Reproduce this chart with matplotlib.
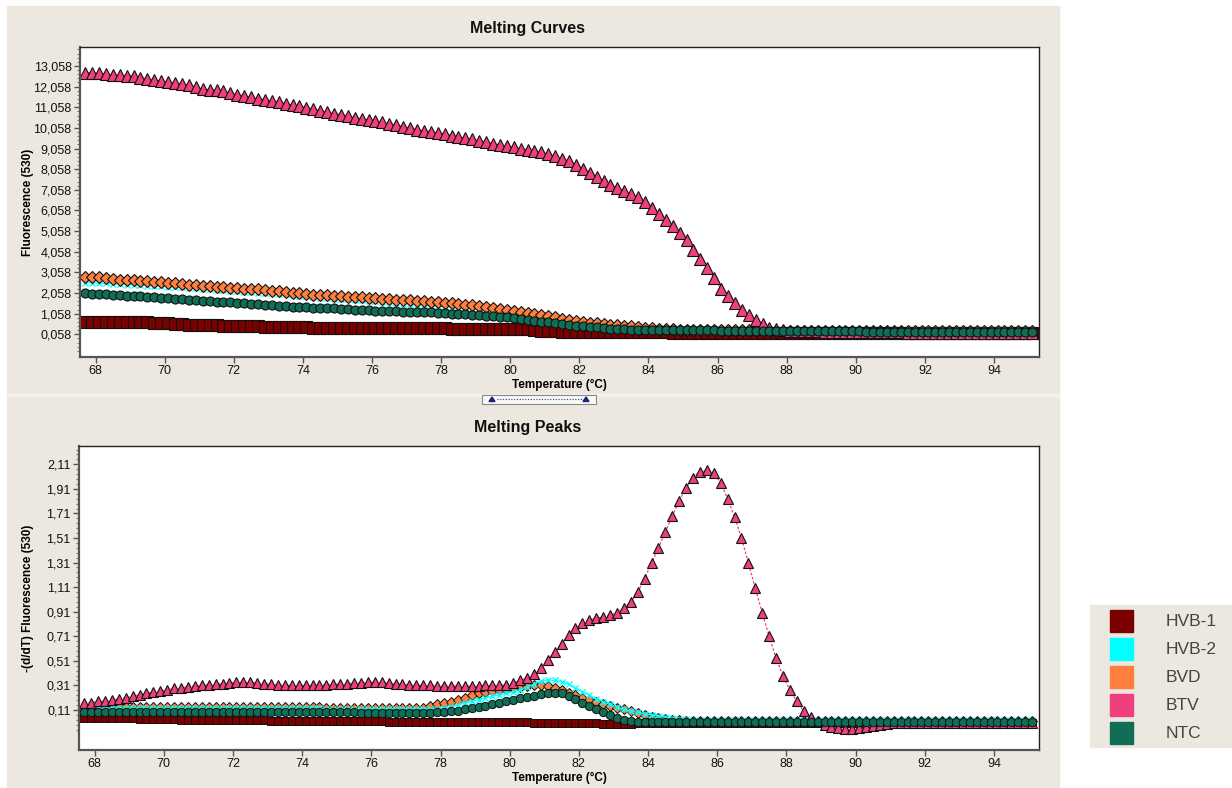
import matplotlib
matplotlib.use("Agg")
import matplotlib.pyplot as plt
from matplotlib.patches import Rectangle, Polygon
from matplotlib.ticker import FixedLocator

plt.rcParams['font.family'] = ['Liberation Sans', 'DejaVu Sans']

# acquisition temperatures (°C), shared by both panels
temps = [
    67.7, 67.9, 68.1, 68.3, 68.5, 68.7, 68.9, 69.1, 69.3, 69.5,
    69.7, 69.9, 70.1, 70.3, 70.5, 70.7, 70.9, 71.1, 71.3, 71.5,
    71.7, 71.9, 72.1, 72.3, 72.5, 72.7, 72.9, 73.1, 73.3, 73.5,
    73.7, 73.9, 74.1, 74.3, 74.5, 74.7, 74.9, 75.1, 75.3, 75.5,
    75.7, 75.9, 76.1, 76.3, 76.5, 76.7, 76.9, 77.1, 77.3, 77.5,
    77.7, 77.9, 78.1, 78.3, 78.5, 78.7, 78.9, 79.1, 79.3, 79.5,
    79.7, 79.9, 80.1, 80.3, 80.5, 80.7, 80.9, 81.1, 81.3, 81.5,
    81.7, 81.9, 82.1, 82.3, 82.5, 82.7, 82.9, 83.1, 83.3, 83.5,
    83.7, 83.9, 84.1, 84.3, 84.5, 84.7, 84.9, 85.1, 85.3, 85.5,
    85.7, 85.9, 86.1, 86.3, 86.5, 86.7, 86.9, 87.1, 87.3, 87.5,
    87.7, 87.9, 88.1, 88.3, 88.5, 88.7, 88.9, 89.1, 89.3, 89.5,
    89.7, 89.9, 90.1, 90.3, 90.5, 90.7, 90.9, 91.1, 91.3, 91.5,
    91.7, 91.9, 92.1, 92.3, 92.5, 92.7, 92.9, 93.1, 93.3, 93.5,
    93.7, 93.9, 94.1, 94.3, 94.5, 94.7, 94.9, 95.1,
]

# ---- Melting curves: fluorescence (530) ----
curve_hvb1 = [
    0.67, 0.67, 0.67, 0.66, 0.66, 0.66, 0.65, 0.65, 0.64, 0.63,
    0.62, 0.61, 0.60, 0.58, 0.56, 0.53, 0.51, 0.50, 0.50, 0.49,
    0.48, 0.47, 0.46, 0.46, 0.45, 0.44, 0.43, 0.42, 0.41, 0.41,
    0.40, 0.40, 0.39, 0.38, 0.38, 0.37, 0.36, 0.36, 0.35, 0.35,
    0.35, 0.35, 0.34, 0.34, 0.34, 0.34, 0.34, 0.34, 0.34, 0.34,
    0.34, 0.34, 0.34, 0.33, 0.33, 0.33, 0.33, 0.31, 0.31, 0.30,
    0.30, 0.30, 0.30, 0.30, 0.30, 0.29, 0.24, 0.22, 0.21, 0.19,
    0.18, 0.18, 0.18, 0.18, 0.18, 0.17, 0.17, 0.16, 0.16, 0.16,
    0.15, 0.15, 0.15, 0.15, 0.15, 0.14, 0.14, 0.14, 0.14, 0.14,
    0.14, 0.14, 0.13, 0.13, 0.13, 0.13, 0.13, 0.13, 0.13, 0.13,
    0.13, 0.13, 0.13, 0.12, 0.12, 0.12, 0.12, 0.12, 0.12, 0.12,
    0.12, 0.12, 0.12, 0.12, 0.12, 0.12, 0.12, 0.12, 0.12, 0.12,
    0.12, 0.12, 0.12, 0.12, 0.11, 0.11, 0.11, 0.11, 0.11, 0.11,
    0.11, 0.11, 0.11, 0.11, 0.11, 0.11, 0.11, 0.11,
]
curve_hvb2 = [
    2.56, 2.55, 2.53, 2.52, 2.50, 2.49, 2.47, 2.45, 2.44, 2.42,
    2.40, 2.39, 2.37, 2.35, 2.33, 2.31, 2.29, 2.26, 2.24, 2.22,
    2.20, 2.17, 2.15, 2.13, 2.11, 2.08, 2.06, 2.04, 2.01, 1.99,
    1.96, 1.93, 1.90, 1.87, 1.84, 1.82, 1.79, 1.77, 1.75, 1.72,
    1.70, 1.68, 1.66, 1.63, 1.60, 1.57, 1.54, 1.51, 1.48, 1.46,
    1.44, 1.42, 1.40, 1.37, 1.35, 1.33, 1.30, 1.27, 1.24, 1.21,
    1.18, 1.15, 1.13, 1.09, 1.05, 1.00, 0.95, 0.89, 0.84, 0.78,
    0.72, 0.66, 0.60, 0.55, 0.50, 0.46, 0.42, 0.39, 0.36, 0.34,
    0.32, 0.30, 0.29, 0.28, 0.27, 0.26, 0.25, 0.25, 0.24, 0.24,
    0.23, 0.23, 0.23, 0.23, 0.23, 0.22, 0.22, 0.22, 0.22, 0.22,
    0.22, 0.22, 0.22, 0.22, 0.21, 0.21, 0.21, 0.21, 0.21, 0.21,
    0.21, 0.21, 0.21, 0.21, 0.21, 0.20, 0.20, 0.20, 0.20, 0.20,
    0.20, 0.20, 0.20, 0.20, 0.20, 0.20, 0.20, 0.20, 0.19, 0.19,
    0.19, 0.19, 0.19, 0.19, 0.19, 0.19, 0.19, 0.19,
]
curve_bvd = [
    2.82, 2.82, 2.81, 2.77, 2.74, 2.71, 2.70, 2.69, 2.66, 2.63,
    2.60, 2.58, 2.55, 2.52, 2.49, 2.46, 2.44, 2.41, 2.38, 2.36,
    2.34, 2.32, 2.30, 2.27, 2.25, 2.23, 2.20, 2.17, 2.14, 2.10,
    2.07, 2.04, 2.01, 1.98, 1.96, 1.94, 1.92, 1.90, 1.88, 1.86,
    1.85, 1.83, 1.81, 1.79, 1.76, 1.74, 1.72, 1.70, 1.69, 1.65,
    1.63, 1.60, 1.58, 1.56, 1.53, 1.50, 1.47, 1.43, 1.39, 1.34,
    1.29, 1.24, 1.19, 1.13, 1.07, 1.03, 1.00, 0.95, 0.88, 0.81,
    0.75, 0.69, 0.65, 0.62, 0.59, 0.56, 0.53, 0.50, 0.47, 0.44,
    0.41, 0.38, 0.35, 0.33, 0.31, 0.30, 0.29, 0.28, 0.27, 0.27,
    0.27, 0.26, 0.26, 0.26, 0.25, 0.25, 0.25, 0.25, 0.24, 0.24,
    0.24, 0.24, 0.24, 0.23, 0.23, 0.23, 0.23, 0.23, 0.23, 0.22,
    0.22, 0.22, 0.22, 0.22, 0.22, 0.22, 0.22, 0.21, 0.21, 0.21,
    0.21, 0.21, 0.21, 0.21, 0.21, 0.21, 0.20, 0.20, 0.20, 0.20,
    0.20, 0.20, 0.20, 0.20, 0.20, 0.20, 0.20, 0.20,
]
curve_btv = [
    12.73, 12.72, 12.70, 12.66, 12.63, 12.61, 12.59, 12.56, 12.49, 12.42,
    12.37, 12.33, 12.29, 12.23, 12.18, 12.12, 12.03, 11.94, 11.91, 11.88,
    11.83, 11.75, 11.67, 11.61, 11.54, 11.48, 11.42, 11.36, 11.31, 11.24,
    11.17, 11.11, 11.04, 10.97, 10.90, 10.82, 10.75, 10.68, 10.62, 10.56,
    10.50, 10.45, 10.39, 10.32, 10.26, 10.19, 10.11, 10.04, 9.98, 9.92,
    9.87, 9.82, 9.76, 9.69, 9.62, 9.56, 9.50, 9.43, 9.37, 9.30,
    9.23, 9.17, 9.11, 9.04, 8.98, 8.93, 8.87, 8.80, 8.68, 8.57,
    8.45, 8.27, 8.06, 7.87, 7.68, 7.47, 7.28, 7.14, 7.00, 6.86,
    6.69, 6.48, 6.20, 5.90, 5.62, 5.30, 4.97, 4.63, 4.14, 3.70,
    3.25, 2.80, 2.24, 1.92, 1.57, 1.25, 0.97, 0.75, 0.55, 0.38,
    0.30, 0.26, 0.24, 0.23, 0.22, 0.21, 0.20, 0.19, 0.18, 0.18,
    0.17, 0.17, 0.16, 0.16, 0.16, 0.15, 0.15, 0.15, 0.15, 0.14,
    0.14, 0.14, 0.14, 0.14, 0.13, 0.13, 0.13, 0.13, 0.13, 0.13,
    0.13, 0.12, 0.12, 0.12, 0.12, 0.12, 0.12, 0.12,
]
curve_ntc = [
    2.04, 2.03, 2.01, 1.99, 1.97, 1.95, 1.93, 1.91, 1.89, 1.87,
    1.85, 1.83, 1.81, 1.79, 1.76, 1.73, 1.70, 1.68, 1.66, 1.64,
    1.62, 1.60, 1.58, 1.56, 1.54, 1.51, 1.49, 1.47, 1.45, 1.42,
    1.40, 1.38, 1.36, 1.35, 1.34, 1.33, 1.31, 1.29, 1.27, 1.25,
    1.23, 1.22, 1.21, 1.20, 1.18, 1.17, 1.16, 1.15, 1.15, 1.14,
    1.12, 1.10, 1.08, 1.06, 1.04, 1.02, 1.00, 0.98, 0.96, 0.94,
    0.91, 0.88, 0.84, 0.80, 0.74, 0.68, 0.67, 0.64, 0.59, 0.55,
    0.50, 0.47, 0.45, 0.42, 0.39, 0.36, 0.33, 0.31, 0.30, 0.29,
    0.28, 0.27, 0.27, 0.27, 0.27, 0.27, 0.26, 0.26, 0.26, 0.26,
    0.25, 0.25, 0.24, 0.24, 0.24, 0.23, 0.23, 0.22, 0.22, 0.22,
    0.21, 0.21, 0.21, 0.21, 0.20, 0.20, 0.20, 0.20, 0.20, 0.20,
    0.20, 0.20, 0.20, 0.19, 0.19, 0.19, 0.19, 0.19, 0.19, 0.19,
    0.19, 0.19, 0.19, 0.19, 0.19, 0.18, 0.18, 0.18, 0.18, 0.18,
    0.18, 0.18, 0.18, 0.18, 0.18, 0.18, 0.18, 0.18,
]

# ---- Melting peaks: -(d/dT) fluorescence (530) ----
peak_hvb1 = [
    0.045, 0.045, 0.045, 0.045, 0.045, 0.045, 0.045, 0.045, 0.035, 0.035,
    0.035, 0.035, 0.035, 0.035, 0.03, 0.03, 0.03, 0.03, 0.03, 0.03,
    0.03, 0.03, 0.03, 0.03, 0.03, 0.03, 0.03, 0.02, 0.02, 0.02,
    0.02, 0.02, 0.02, 0.02, 0.02, 0.02, 0.02, 0.02, 0.02, 0.02,
    0.02, 0.02, 0.02, 0.02, 0.015, 0.015, 0.015, 0.015, 0.015, 0.015,
    0.015, 0.015, 0.015, 0.015, 0.015, 0.015, 0.015, 0.015, 0.015, 0.015,
    0.015, 0.015, 0.015, 0.015, 0.015, 0.0, 0.0, 0.0, 0.0, 0.0,
    0.0, 0.0, 0.0, 0.0, 0.0, -0.005, -0.005, -0.005, -0.005, -0.005,
    0.0, 0.0, 0.0, 0.0, 0.0, 0.0, 0.0, 0.0, 0.0, 0.0,
    0.0, 0.0, 0.0, 0.0, 0.0, 0.0, 0.0, 0.0, 0.0, 0.0,
    0.0, 0.0, 0.0, 0.0, 0.0, 0.0, 0.0, 0.0, 0.0, 0.0,
    0.0, 0.0, 0.0, 0.0, 0.0, 0.0, 0.0, 0.0, 0.0, 0.0,
    0.0, 0.0, 0.0, 0.0, 0.0, 0.0, 0.0, 0.0, 0.0, 0.0,
    0.0, 0.0, 0.0, 0.0, 0.0, 0.0, 0.0, 0.0,
]
peak_hvb2 = [
    0.12, 0.12, 0.125, 0.125, 0.125, 0.125, 0.125, 0.125, 0.125, 0.125,
    0.125, 0.125, 0.125, 0.125, 0.125, 0.125, 0.125, 0.125, 0.125, 0.125,
    0.125, 0.125, 0.125, 0.125, 0.125, 0.125, 0.125, 0.125, 0.125, 0.125,
    0.125, 0.125, 0.125, 0.125, 0.125, 0.12, 0.12, 0.12, 0.12, 0.12,
    0.12, 0.12, 0.12, 0.12, 0.12, 0.12, 0.12, 0.12, 0.12, 0.12,
    0.12, 0.12, 0.125, 0.135, 0.15, 0.165, 0.18, 0.195, 0.21, 0.22,
    0.235, 0.245, 0.26, 0.275, 0.295, 0.32, 0.345, 0.355, 0.35, 0.34,
    0.32, 0.29, 0.26, 0.23, 0.20, 0.175, 0.155, 0.135, 0.115, 0.10,
    0.09, 0.08, 0.07, 0.06, 0.05, 0.045, 0.04, 0.035, 0.03, 0.03,
    0.025, 0.025, 0.025, 0.025, 0.025, 0.025, 0.025, 0.025, 0.025, 0.025,
    0.025, 0.025, 0.025, 0.025, 0.025, 0.025, 0.025, 0.025, 0.025, 0.025,
    0.025, 0.025, 0.025, 0.025, 0.025, 0.025, 0.025, 0.025, 0.025, 0.025,
    0.025, 0.025, 0.025, 0.025, 0.025, 0.025, 0.025, 0.025, 0.025, 0.025,
    0.025, 0.025, 0.025, 0.025, 0.025, 0.025, 0.025, 0.025,
]
peak_bvd = [
    0.12, 0.125, 0.13, 0.13, 0.13, 0.135, 0.135, 0.135, 0.135, 0.135,
    0.135, 0.135, 0.135, 0.135, 0.135, 0.135, 0.135, 0.135, 0.135, 0.135,
    0.135, 0.135, 0.135, 0.135, 0.135, 0.135, 0.135, 0.135, 0.135, 0.135,
    0.135, 0.135, 0.135, 0.135, 0.135, 0.13, 0.13, 0.13, 0.13, 0.13,
    0.13, 0.13, 0.13, 0.13, 0.13, 0.13, 0.13, 0.13, 0.125, 0.125,
    0.14, 0.155, 0.165, 0.175, 0.19, 0.21, 0.23, 0.245, 0.255, 0.265,
    0.27, 0.28, 0.29, 0.30, 0.305, 0.31, 0.31, 0.305, 0.29, 0.27,
    0.25, 0.23, 0.21, 0.19, 0.175, 0.16, 0.14, 0.125, 0.115, 0.10,
    0.085, 0.07, 0.055, 0.045, 0.035, 0.03, 0.025, 0.02, 0.02, 0.02,
    0.02, 0.02, 0.02, 0.02, 0.02, 0.02, 0.02, 0.02, 0.02, 0.02,
    0.02, 0.02, 0.02, 0.02, 0.02, 0.02, 0.02, 0.02, 0.02, 0.02,
    0.02, 0.02, 0.02, 0.02, 0.02, 0.02, 0.02, 0.02, 0.02, 0.02,
    0.02, 0.02, 0.02, 0.02, 0.02, 0.02, 0.02, 0.02, 0.02, 0.02,
    0.02, 0.02, 0.02, 0.02, 0.02, 0.02, 0.02, 0.02,
]
peak_btv = [
    0.17, 0.17, 0.18, 0.18, 0.19, 0.20, 0.21, 0.22, 0.235, 0.245,
    0.255, 0.265, 0.275, 0.285, 0.29, 0.30, 0.305, 0.31, 0.315, 0.32,
    0.325, 0.33, 0.335, 0.335, 0.335, 0.33, 0.325, 0.32, 0.315, 0.31,
    0.31, 0.31, 0.31, 0.31, 0.315, 0.315, 0.32, 0.32, 0.325, 0.33,
    0.33, 0.335, 0.335, 0.335, 0.33, 0.325, 0.32, 0.315, 0.31, 0.31,
    0.31, 0.305, 0.305, 0.305, 0.305, 0.305, 0.305, 0.305, 0.31, 0.31,
    0.31, 0.315, 0.33, 0.35, 0.37, 0.40, 0.45, 0.52, 0.58, 0.65,
    0.72, 0.78, 0.82, 0.84, 0.86, 0.865, 0.885, 0.90, 0.94, 0.99,
    1.07, 1.18, 1.305, 1.43, 1.56, 1.69, 1.81, 1.92, 2.00, 2.05,
    2.06, 2.04, 1.96, 1.83, 1.68, 1.51, 1.305, 1.10, 0.90, 0.71,
    0.53, 0.39, 0.27, 0.18, 0.10, 0.055, 0.02, -0.01, -0.03, -0.04,
    -0.045, -0.045, -0.04, -0.03, -0.02, -0.01, -0.005, 0.0, 0.0, 0.0,
    0.0, 0.0, 0.0, 0.0, 0.0, 0.0, 0.0, 0.0, 0.0, 0.0,
    0.0, 0.0, 0.0, 0.0, 0.0, 0.0, 0.0, 0.005,
]
peak_ntc = [
    0.095, 0.095, 0.095, 0.095, 0.095, 0.095, 0.095, 0.095, 0.095, 0.095,
    0.095, 0.095, 0.095, 0.095, 0.095, 0.095, 0.095, 0.095, 0.095, 0.095,
    0.09, 0.09, 0.09, 0.09, 0.09, 0.09, 0.09, 0.09, 0.09, 0.09,
    0.09, 0.09, 0.09, 0.09, 0.09, 0.09, 0.09, 0.09, 0.09, 0.09,
    0.085, 0.085, 0.085, 0.085, 0.085, 0.085, 0.085, 0.085, 0.085, 0.085,
    0.085, 0.09, 0.095, 0.10, 0.105, 0.115, 0.125, 0.135, 0.145, 0.155,
    0.165, 0.18, 0.19, 0.205, 0.215, 0.225, 0.24, 0.25, 0.25, 0.245,
    0.225, 0.20, 0.17, 0.14, 0.115, 0.09, 0.065, 0.045, 0.03, 0.022,
    0.015, 0.01, 0.01, 0.01, 0.01, 0.01, 0.01, 0.01, 0.01, 0.01,
    0.01, 0.01, 0.01, 0.01, 0.01, 0.01, 0.01, 0.01, 0.01, 0.01,
    0.01, 0.01, 0.01, 0.01, 0.01, 0.01, 0.01, 0.01, 0.01, 0.01,
    0.01, 0.01, 0.01, 0.01, 0.01, 0.01, 0.01, 0.01, 0.01, 0.01,
    0.01, 0.01, 0.01, 0.01, 0.01, 0.01, 0.01, 0.01, 0.01, 0.01,
    0.01, 0.01, 0.01, 0.01, 0.01, 0.01, 0.01, 0.01,
]

samples = ["HVB-1", "HVB-2", "BVD", "BTV", "NTC"]
colors = {"HVB-1": "#7a0000", "HVB-2": "#00ffff", "BVD": "#ff7f3f",
          "BTV": "#ef3f7c", "NTC": "#0f6e55"}

curve_ticks = [0.058, 1.058, 2.058, 3.058, 4.058, 5.058, 6.058,
               7.058, 8.058, 9.058, 10.058, 11.058, 12.058, 13.058]
peak_ticks = [0.11, 0.31, 0.51, 0.71, 0.91, 1.11, 1.31, 1.51, 1.71, 1.91, 2.11]
temp_ticks = [68, 70, 72, 74, 76, 78, 80, 82, 84, 86, 88, 90, 92, 94]

W, H = 1232, 788
BEIGE = "#ede8df"


def fx(px):
    return px / W


def fy(py):
    return 1 - py / H


fig = plt.figure(figsize=(W / 100, H / 100), dpi=100, facecolor="white")

# window background panels (behind the axes)
fig.patches.append(Rectangle((fx(7), fy(787)), fx(1059) - fx(7), fy(6) - fy(787),
                             transform=fig.transFigure, color=BEIGE, zorder=-2))
fig.patches.append(Rectangle((fx(7), fy(396)), fx(1059) - fx(7), 2 / H,
                             transform=fig.transFigure, color="#f6f3ee", zorder=-1))


def style_axes(ax, ticks, labels, ylim, minor):
    ax.set_facecolor("white")
    ax.set_xlim(67.55, 95.3)
    ax.set_ylim(*ylim)
    ax.xaxis.set_major_locator(FixedLocator(temp_ticks))
    ax.set_xticklabels([str(t) for t in temp_ticks])
    ax.yaxis.set_major_locator(FixedLocator(ticks))
    ax.set_yticklabels(labels)
    ax.yaxis.set_minor_locator(FixedLocator(minor))
    ax.tick_params(axis="both", which="major", direction="out", length=4,
                   width=1, color="#555555", labelsize=9, labelcolor="#111111", pad=2)
    ax.tick_params(axis="y", which="minor", direction="out", length=2,
                   width=0.8, color="#777777")
    for side in ("left", "bottom"):
        ax.spines[side].set_color("#555555")
        ax.spines[side].set_linewidth(1.6)
    for side in ("top", "right"):
        ax.spines[side].set_color("#222222")
        ax.spines[side].set_linewidth(1.0)
    ax.set_xlabel("Temperature (°C)", fontsize=8.5, fontweight="bold", labelpad=1)


# ---- top: melting curves ----
ax1 = fig.add_axes([fx(80), fy(357), fx(1039) - fx(80), fy(47) - fy(357)])
minor1 = [round(t + d, 3) for t in [-0.942] + curve_ticks for d in (0.2, 0.4, 0.6, 0.8)]
style_axes(ax1, curve_ticks, [f"{t:.3f}".replace(".", ",") for t in curve_ticks],
           (-1.042, 13.978), minor1)
ax1.set_ylabel("Fluorescence (530)", fontsize=8.5, fontweight="bold")
ax1.yaxis.set_label_coords((34 - 80) / 959, 0.5)

top_series = [
    ("HVB-1", curve_hvb1, "s", 8.5, 0.8),
    ("HVB-2", curve_hvb2, "x", 4.5, 1.0),
    ("BVD", curve_bvd, "D", 6.5, 0.8),
    ("BTV", curve_btv, "^", 8.0, 0.8),
    ("NTC", curve_ntc, "o", 6.5, 0.8),
]
for name, vals, mk, ms, mew in top_series:
    c = colors[name]
    ec = c if name == "HVB-2" else "#111111"
    ax1.plot(temps, vals, color=c, lw=0.8, marker=mk, ms=ms, mfc=c, mec=ec, mew=mew)

# ---- bottom: melting peaks ----
ax2 = fig.add_axes([fx(79), fy(750), fx(1039) - fx(79), fy(446) - fy(750)])
minor2 = [round(t + d, 3) for t in [-0.09] + peak_ticks for d in (0.04, 0.08, 0.12, 0.16)]
style_axes(ax2, peak_ticks, [f"{t:.2f}".replace(".", ",") for t in peak_ticks],
           (-0.216, 2.259), minor2)
ax2.set_ylabel("-(d/dT) Fluorescence (530)", fontsize=8.5, fontweight="bold")
ax2.yaxis.set_label_coords((34 - 79) / 960, 0.5)

bottom_series = [
    ("HVB-1", peak_hvb1, "s", 5.5, 0.7),
    ("BVD", peak_bvd, "D", 5.5, 0.7),
    ("HVB-2", peak_hvb2, "x", 4.0, 1.0),
    ("BTV", peak_btv, "^", 6.5, 0.8),
    ("NTC", peak_ntc, "o", 6.0, 0.7),
]
for name, vals, mk, ms, mew in bottom_series:
    c = colors[name]
    ec = c if name == "HVB-2" else "#111111"
    ls = (0, (2, 1.5)) if name == "BTV" else "-"
    ax2.plot(temps, vals, color=c, lw=0.9, ls=ls, marker=mk, ms=ms, mfc=c, mec=ec, mew=mew)

# panel titles
fig.text(fx(528), fy(29), "Melting Curves", ha="center", va="center",
         fontsize=11.5, fontweight="bold", color="#111111")
fig.text(fx(528), fy(427), "Melting Peaks", ha="center", va="center",
         fontsize=11.5, fontweight="bold", color="#111111")

# splitter handle between the panels
fig.patches.append(Rectangle((fx(482), fy(404)), fx(596) - fx(482), fy(395) - fy(404),
                             transform=fig.transFigure, facecolor="#f8f8f8",
                             edgecolor="#8a8a8a", lw=0.8, zorder=3))
fig.lines.append(plt.Line2D([fx(497), fx(582)], [fy(399.5), fy(399.5)],
                            transform=fig.transFigure, color="#2a3a9a",
                            lw=0.8, ls=(0, (1, 1.5)), zorder=4))
for cx in (492, 586):
    fig.patches.append(Polygon([(fx(cx - 3), fy(401.5)), (fx(cx + 3), fy(401.5)),
                                (fx(cx), fy(397))], closed=True,
                               transform=fig.transFigure, color="#1a237e", zorder=4))

# legend box on the right
fig.patches.append(Rectangle((fx(1090), fy(747)), fx(1232) - fx(1090), fy(605) - fy(747),
                             transform=fig.transFigure, color=BEIGE, zorder=-2))
for i, name in enumerate(samples):
    yc = 621 + i * 28
    fig.patches.append(Rectangle((fx(1110), fy(yc + 11)), fx(1133) - fx(1110), 22 / H,
                                 transform=fig.transFigure, color=colors[name], zorder=2))
    fig.text(fx(1166), fy(yc), name, ha="left", va="center", fontsize=12.5,
             color="#444444")

fig.savefig("out.png", dpi=100, facecolor="white")
